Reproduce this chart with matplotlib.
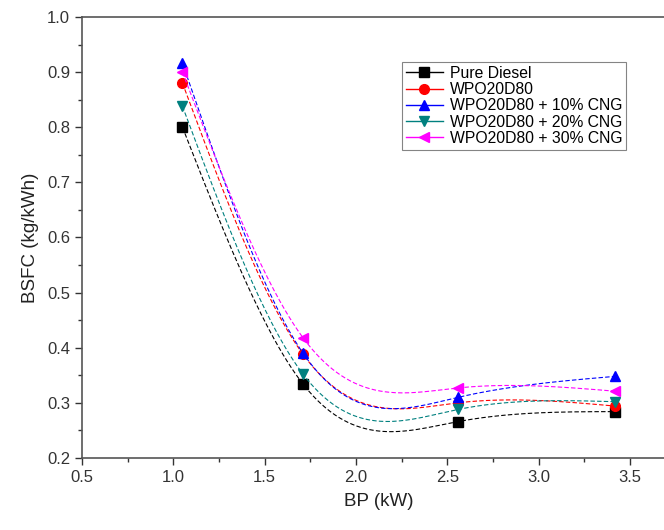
import numpy as np
import matplotlib
matplotlib.use("Agg")
import matplotlib.pyplot as plt
from matplotlib.ticker import MultipleLocator

plt.rcParams['font.family'] = ['Liberation Sans', 'DejaVu Sans']

# data
bp = [1.05, 1.71, 2.56, 3.42]
pure_diesel = [0.800, 0.334, 0.266, 0.284]
wpo20d80 = [0.880, 0.388, 0.300, 0.294]
cng10 = [0.916, 0.390, 0.310, 0.348]
cng20 = [0.838, 0.352, 0.288, 0.302]
cng30 = [0.900, 0.418, 0.327, 0.321]

labels = ["Pure Diesel", "WPO20D80", "WPO20D80 + 10% CNG",
          "WPO20D80 + 20% CNG", "WPO20D80 + 30% CNG"]
series = [pure_diesel, wpo20d80, cng10, cng20, cng30]
colors = ["black", "#ff0000", "#0000ff", "#00807f", "#ff00ff"]
markers = ["s", "o", "^", "v", "<"]


def natural_spline(x, y, n=200):
    # natural cubic spline through the points (like Origin's spline connect)
    x = np.asarray(x, float); y = np.asarray(y, float)
    k = len(x)
    h = np.diff(x)
    A = np.zeros((k, k)); r = np.zeros(k)
    A[0, 0] = A[-1, -1] = 1
    for i in range(1, k - 1):
        A[i, i - 1] = h[i - 1]
        A[i, i] = 2 * (h[i - 1] + h[i])
        A[i, i + 1] = h[i]
        r[i] = 6 * ((y[i + 1] - y[i]) / h[i] - (y[i] - y[i - 1]) / h[i - 1])
    M = np.linalg.solve(A, r)
    xs = np.linspace(x[0], x[-1], n)
    idx = np.clip(np.searchsorted(x, xs) - 1, 0, k - 2)
    x0, x1 = x[idx], x[idx + 1]
    hh = x1 - x0
    a = (x1 - xs) / hh; b = (xs - x0) / hh
    ys = a * y[idx] + b * y[idx + 1] + ((a**3 - a) * M[idx] + (b**3 - b) * M[idx + 1]) * hh**2 / 6
    return xs, ys


fig = plt.figure(figsize=(6.64, 5.30), dpi=100)
ax = fig.add_axes([0.1235, 0.136, 0.894, 0.832])

handles = []
for vals, lab, c, m in zip(series, labels, colors, markers):
    xs, ys = natural_spline(bp, vals)
    ax.plot(xs, ys, color=c, lw=0.8, ls=(0, (4, 2)))
    ax.plot(bp, vals, ls="none", marker=m, color=c, ms=7)
    h, = ax.plot([], [], color=c, lw=1.0, marker=m, ms=7, label=lab)
    handles.append(h)

ax.set_xlim(0.5, 3.75)
ax.set_ylim(0.2, 1.0)
ax.xaxis.set_major_locator(MultipleLocator(0.5))
ax.xaxis.set_minor_locator(MultipleLocator(0.25))
ax.yaxis.set_major_locator(MultipleLocator(0.1))
ax.yaxis.set_minor_locator(MultipleLocator(0.05))
ax.tick_params(which="major", direction="out", length=5, width=1, labelsize=12, colors="#333333")
ax.tick_params(which="minor", direction="out", length=3, width=1, colors="#333333")
for s in ax.spines.values():
    s.set_color("#555555")
    s.set_linewidth(1.2)

ax.set_xlabel("BP (kW)", fontsize=13.5, color="#222222", labelpad=6)
ax.set_ylabel("BSFC (kg/kWh)", fontsize=13.5, color="#222222", labelpad=6)

leg = ax.legend(handles=handles, loc="upper left", bbox_to_anchor=(0.605, 0.883),
                bbox_transform=fig.transFigure, borderaxespad=0, fontsize=11.3,
                frameon=True, fancybox=False, edgecolor="#666666", handlelength=2.4,
                handletextpad=0.4, borderpad=0.25, labelspacing=0.08)
leg.get_frame().set_linewidth(0.8)

plt.savefig("out.png", dpi=100)
